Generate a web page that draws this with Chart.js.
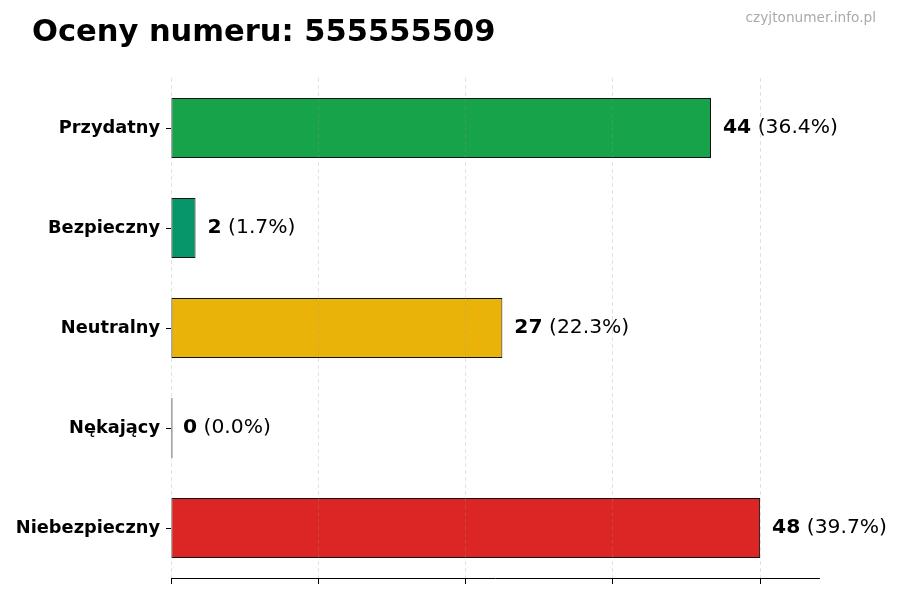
<!DOCTYPE html>
<html>
<head>
<meta charset="utf-8">
<script src="https://cdn.jsdelivr.net/npm/chart.js@4"></script>
<style>
html,body{margin:0;padding:0;background:#fff;}
#wrap{width:900px;height:600px;position:relative;}
</style>
</head>
<body>
<div id="wrap"><canvas id="c" width="900" height="600"></canvas></div>
<script>
const categories = ["Przydatny", "Bezpieczny", "Neutralny", "Nękający", "Niebezpieczny"];
const counts = [44, 2, 27, 0, 48];
const barColors = ["#17a34a", "#079669", "#e9b30a", "#222222", "#dc2626"];
const xTicks = [0, 12, 24, 36, 48];
const titleText = "Oceny numeru: 555555509";
const watermark = "czyjtonumer.info.pl";

const total = counts.reduce((a, b) => a + b, 0);
const FONT = "'DejaVu Sans', sans-serif";

const overlay = {
  id: 'overlay',
  afterDatasetsDraw(chart) {
    const ctx = chart.ctx;
    const meta = chart.getDatasetMeta(0);
    ctx.save();
    ctx.textBaseline = 'middle';
    meta.data.forEach((bar, i) => {
      const v = counts[i];
      const pct = total ? (v / total * 100).toFixed(1) : '0.0';
      const x0 = chart.scales.x.getPixelForValue(v) + 12;
      const y = bar.y;
      ctx.fillStyle = '#000';
      ctx.font = "bold 20.3px " + FONT;
      ctx.textAlign = 'left';
      ctx.fillText(String(v), x0, y);
      const w = ctx.measureText(String(v)).width;
      ctx.font = "20.3px " + FONT;
      ctx.fillText(" (" + pct + "%)", x0 + w, y);
    });
    ctx.restore();
  },
  afterDraw(chart) {
    const ctx = chart.ctx;
    ctx.save();
    ctx.fillStyle = '#000';
    ctx.font = "bold 30.5px " + FONT;
    ctx.textAlign = 'left';
    ctx.textBaseline = 'alphabetic';
    ctx.fillText(titleText, 32, 41);
    ctx.fillStyle = '#aaaaaa';
    ctx.font = "13.7px " + FONT;
    ctx.textAlign = 'right';
    ctx.fillText(watermark, 876, 22);
    ctx.restore();
  }
};

new Chart(document.getElementById('c'), {
  type: 'bar',
  data: {
    labels: categories,
    datasets: [{
      data: counts,
      backgroundColor: barColors,
      borderColor: '#111',
      borderWidth: 1,
      borderSkipped: false,
      barPercentage: 0.6,
      categoryPercentage: 1.0,
      minBarLength: 1.5
    }]
  },
  options: {
    indexAxis: 'y',
    responsive: false,
    animation: false,
    devicePixelRatio: 1,
    layout: { padding: { top: 78, right: 81, bottom: 0, left: 0 } },
    plugins: { legend: { display: false }, tooltip: { enabled: false }, title: { display: false } },
    scales: {
      x: {
        min: 0,
        max: 52.8,
        afterBuildTicks(scale) { scale.ticks = xTicks.map(v => ({ value: v })); },
        afterFit(scale) { scale.height = 22; },
        ticks: { display: true, callback: () => '', padding: 0 },
        grid: {
          z: 1,
          color: 'rgba(150,150,150,0.35)',
          lineWidth: 0.8,
          drawTicks: true,
          tickLength: 6,
          tickColor: '#000',
          tickWidth: 1
        },
        border: { display: true, z: 1, color: '#000', width: 1, dash: [4, 3] }
      },
      y: {
        offset: true,
        afterFit(scale) { scale.width = 171; },
        ticks: {
          color: '#000',
          font: { family: FONT, size: 17.8, weight: 'bold' },
          padding: 6
        },
        grid: {
          offset: false,
          drawOnChartArea: false,
          drawTicks: true,
          tickLength: 5,
          tickColor: '#000',
          tickWidth: 1
        },
        border: { display: false }
      }
    }
  },
  plugins: [overlay]
});
</script>
</body>
</html>
